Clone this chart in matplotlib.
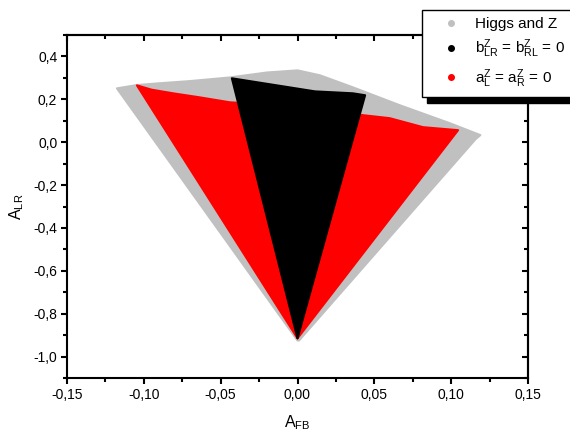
import numpy as np
import matplotlib
matplotlib.use("Agg")
import matplotlib.pyplot as plt
from matplotlib.lines import Line2D
from matplotlib.patches import Rectangle
from matplotlib.ticker import MultipleLocator, FuncFormatter

plt.rcParams['font.family'] = ['Liberation Sans', 'DejaVu Sans']
plt.rcParams['mathtext.fontset'] = 'custom'
plt.rcParams['mathtext.rm'] = 'Liberation Sans'
plt.rcParams['mathtext.it'] = 'Liberation Sans'
plt.rcParams['mathtext.default'] = 'rm'

# outlines of the scanned regions (A_FB, A_LR)
higgs_z_x = [0.000, -0.1175, -0.105, -0.0915, -0.070, -0.0439, -0.020, 0.000,
             0.0146, 0.036, 0.0667, 0.0993, 0.119, 0.116, 0.001]
higgs_z_y = [-0.925, 0.251, 0.266, 0.274, 0.285, 0.302, 0.325, 0.335,
             0.312, 0.256, 0.172, 0.088, 0.033, 0.015, -0.925]

aL_left_x = [0.000, -0.1045, -0.095, -0.081, -0.0635, -0.044, -0.030, 0.000]
aL_left_y = [-0.915, 0.265, 0.245, 0.228, 0.209, 0.186, 0.180, -0.915]

aL_right_x = [0.000, 0.030, 0.0426, 0.060, 0.0817, 0.1045, 0.000]
aL_right_y = [-0.915, 0.140, 0.126, 0.112, 0.070, 0.056, -0.915]

bLR_x = [0.000, -0.0427, -0.0134, 0.0114, 0.036, 0.044, 0.000]
bLR_y = [-0.915, 0.298, 0.265, 0.237, 0.228, 0.219, -0.915]

labels = ['Higgs and Z',
          r'b$^{Z}_{LR}$ = b$^{Z}_{RL}$ = 0',
          r'a$^{Z}_{L}$ = a$^{Z}_{R}$ = 0']
colors = ['#c0c0c0', 'black', 'red']

fig = plt.figure(figsize=(5.7, 4.32), dpi=100)
ax = fig.add_axes([67/570, 54/432, 461/570, 343/432])
ax.patch.set_visible(False)

# thin same-colour edge with round joins to soften the corners like the dot clouds
ax.fill(higgs_z_x, higgs_z_y, color=colors[0], lw=1.5, joinstyle='round')
ax.fill(aL_left_x, aL_left_y, color=colors[2], lw=1.5, joinstyle='round')
ax.fill(aL_right_x, aL_right_y, color=colors[2], lw=1.5, joinstyle='round')
ax.fill(bLR_x, bLR_y, color=colors[1], lw=1.5, joinstyle='round')

ax.set_xlim(-0.15, 0.15)
ax.set_ylim(-1.1, 0.5)

fmt = FuncFormatter(lambda v, p: ('%.2f' % v).replace('.', ',') if abs(v) > 1e-9 else '0,00')
fmty = FuncFormatter(lambda v, p: ('%.1f' % v).replace('.', ',') if abs(v) > 1e-9 else '0,0')
ax.xaxis.set_major_locator(MultipleLocator(0.05))
ax.xaxis.set_minor_locator(MultipleLocator(0.025))
ax.yaxis.set_major_locator(MultipleLocator(0.2))
ax.yaxis.set_minor_locator(MultipleLocator(0.1))
ax.xaxis.set_major_formatter(fmt)
ax.yaxis.set_major_formatter(fmty)
ax.set_yticks(np.arange(-1.0, 0.41, 0.2))

for s in ax.spines.values():
    s.set_linewidth(1.5)
ax.tick_params(which='both', direction='out', width=1.5, labelsize=10, pad=3)
ax.tick_params(which='major', length=4)
ax.tick_params(which='minor', length=3)

top = ax.secondary_xaxis('top')
top.xaxis.set_major_locator(MultipleLocator(0.05))
top.xaxis.set_minor_locator(MultipleLocator(0.025))
top.tick_params(which='both', direction='in', width=1.5, labeltop=False)
top.tick_params(which='major', length=4)
top.tick_params(which='minor', length=3)
right = ax.secondary_yaxis('right')
right.set_yticks(np.arange(-1.0, 0.41, 0.2))
right.yaxis.set_minor_locator(MultipleLocator(0.1))
right.tick_params(which='both', direction='in', width=1.5, labelright=False)
right.tick_params(which='major', length=4)
right.tick_params(which='minor', length=3)
for sa in (top, right):
    for s in sa.spines.values():
        s.set_linewidth(1.5)

ax.set_xlabel(r'A$_{FB}$', fontsize=11.5, labelpad=8)
ax.set_ylabel(r'A$_{LR}$', fontsize=11.5, labelpad=5)

handles = [Line2D([], [], ls='none', marker='o', ms=4, color=c) for c in colors]
leg = fig.legend(handles, labels, loc='upper left', bbox_to_anchor=(422/570, 1-10/432),
                 borderaxespad=0, fancybox=False, framealpha=1, edgecolor='black',
                 fontsize=11, handlelength=2.9, handletextpad=0.15, borderpad=0.45,
                 labelspacing=0.45)
leg.get_frame().set_linewidth(1.0)

# drop shadow of the legend box
fig.canvas.draw()
bb = leg.get_window_extent().transformed(fig.transFigure.inverted())
fig.add_artist(Rectangle((bb.x0 + 5/570, bb.y0 - 6/432), bb.width, bb.height,
                         color='black', transform=fig.transFigure, zorder=4))

fig.savefig('out.png', dpi=100)
